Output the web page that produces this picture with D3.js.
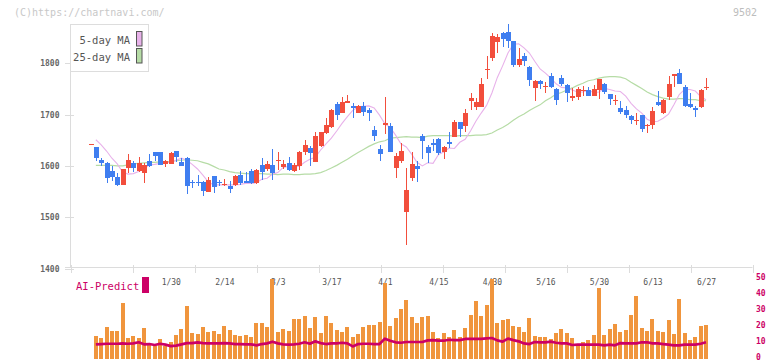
<!DOCTYPE html>
<html><head><meta charset="utf-8">
<script src="https://cdn.jsdelivr.net/npm/d3@7/dist/d3.min.js"></script>
<style>html,body{margin:0;padding:0;background:#fff;}svg{display:block;}</style>
</head><body>
<svg id="chart" width="772" height="361"></svg>
<script>
const dates = ["1/8","1/9","1/10","1/14","1/15","1/16","1/17","1/20","1/21","1/22","1/23","1/24","1/27","1/28","1/29","1/30","1/31",
"2/3","2/4","2/5","2/6","2/7","2/10","2/12","2/13","2/14","2/17","2/18","2/19","2/20","2/21","2/25","2/26","2/27","2/28",
"3/3","3/4","3/5","3/6","3/7","3/10","3/11","3/12","3/13","3/14","3/17","3/18","3/19","3/21","3/24","3/25","3/26","3/27","3/28","3/31",
"4/1","4/2","4/3","4/4","4/7","4/8","4/9","4/10","4/11","4/14","4/15","4/16","4/17","4/18","4/21","4/22","4/23","4/24","4/25","4/28","4/30",
"5/1","5/2","5/7","5/8","5/9","5/12","5/13","5/14","5/15","5/16","5/19","5/20","5/21","5/22","5/23","5/26","5/27","5/28","5/29","5/30",
"6/2","6/3","6/4","6/5","6/6","6/9","6/10","6/11","6/12","6/13","6/16","6/17","6/18","6/19","6/20","6/23","6/24","6/25","6/26","6/27"];

const open  = [1642,1637,1612,1606,1590,1579,1563,1596,1606,1590,1587,1610,1627,1627,1603,1604,1629,1608,1616,1569,1569,1569,1550,1580,1569,1563,1561,1562,1582,1571,1590,1567,1602,1594,1602,1611,1598,1606,1590,1600,1628,1635,1608,1639,1665,1675,1721,1704,1723,1717,1704,1717,1709,1670,1633,1680,1678,1595,1610,1511,1577,1599,1658,1637,1645,1653,1628,1647,1657,1686,1677,1726,1715,1715,1786,1811,1841,1859,1861,1843,1797,1814,1793,1751,1766,1755,1775,1750,1771,1758,1733,1735,1746,1748,1737,1747,1760,1741,1728,1713,1708,1698,1688,1699,1677,1679,1725,1704,1735,1776,1781,1753,1721,1713,1714,1751];
const high  = [1643,1637,1616,1608,1599,1586,1594,1623,1610,1617,1606,1623,1627,1628,1612,1627,1630,1616,1617,1573,1582,1570,1579,1581,1573,1575,1571,1582,1590,1588,1594,1593,1616,1610,1633,1627,1612,1617,1606,1629,1651,1639,1666,1667,1693,1711,1725,1734,1738,1723,1719,1725,1712,1678,1641,1734,1684,1625,1645,1595,1627,1610,1663,1641,1653,1654,1638,1667,1690,1686,1711,1742,1732,1771,1814,1859,1857,1861,1877,1843,1830,1820,1794,1767,1768,1764,1781,1751,1777,1760,1751,1753,1755,1753,1758,1769,1762,1741,1738,1727,1717,1699,1703,1699,1681,1715,1746,1731,1775,1779,1789,1758,1743,1716,1750,1771];
const low   = [1641,1610,1599,1566,1570,1560,1562,1587,1589,1589,1566,1598,1610,1601,1598,1603,1608,1599,1546,1556,1561,1542,1549,1548,1560,1560,1548,1561,1562,1566,1565,1565,1573,1590,1573,1592,1594,1590,1589,1592,1621,1600,1607,1637,1663,1674,1690,1703,1722,1694,1703,1698,1688,1649,1610,1663,1627,1577,1606,1445,1571,1569,1614,1606,1629,1622,1614,1634,1656,1657,1667,1709,1709,1714,1769,1805,1820,1832,1830,1793,1793,1795,1756,1727,1749,1743,1752,1719,1756,1725,1727,1729,1737,1737,1736,1731,1741,1719,1719,1702,1694,1682,1679,1667,1665,1672,1717,1702,1729,1753,1760,1714,1713,1696,1713,1747];
const close = [1642,1616,1605,1577,1579,1563,1594,1612,1596,1606,1602,1600,1620,1602,1610,1625,1618,1600,1560,1566,1566,1552,1573,1558,1566,1564,1554,1580,1566,1567,1566,1592,1589,1604,1586,1612,1604,1592,1602,1627,1641,1625,1658,1666,1680,1709,1700,1725,1727,1712,1717,1706,1704,1658,1624,1684,1628,1619,1629,1553,1604,1593,1649,1626,1640,1626,1636,1643,1686,1671,1703,1732,1725,1760,1788,1853,1851,1848,1843,1797,1809,1805,1767,1766,1760,1756,1753,1729,1760,1743,1736,1750,1747,1737,1750,1769,1744,1731,1729,1706,1699,1690,1690,1671,1679,1707,1718,1729,1760,1779,1760,1716,1714,1708,1748,1753];

const volume = [null,13.6,12.4,19.3,16.8,16.8,34.4,12.4,13.6,12.4,18.7,8.0,7.3,11.8,7.3,9.9,14.3,18.1,32.5,15.5,14.9,19.3,16.2,16.8,14.9,19.9,17.4,14.3,13.6,14.3,13.0,21.8,21.8,19.3,49.5,16.2,18.1,16.8,24.3,24.3,26.2,18.7,25.6,15.5,26.2,21.8,17.4,16.2,19.3,13.0,14.9,19.3,20.6,20.6,22.5,47.0,19.9,25.0,30.6,36.3,25.6,21.8,25.6,26.2,16.2,12.4,15.5,13.0,17.4,13.0,18.7,26.9,35.7,26.2,33.1,49.5,21.8,23.7,24.3,19.9,19.3,16.2,25.0,13.6,13.0,13.0,11.8,15.5,18.1,15.5,12.4,8.0,9.9,11.1,14.3,43.9,14.3,18.1,21.2,16.2,17.4,26.9,38.8,18.7,16.8,24.3,16.8,16.2,23.7,14.9,36.9,15.5,11.1,13.0,19.9,20.6];

const aiPredict = [null,8.4,8.6,8.8,8.8,8.8,9.0,8.8,9.0,9.7,8.4,8.6,8.0,8.8,8.2,7.3,7.6,8.4,9.2,9.2,9.7,9.2,9.0,9.0,9.0,9.2,9.0,8.6,8.6,8.4,8.4,7.8,8.6,9.0,10.1,9.0,8.4,8.2,8.4,8.8,9.7,8.8,10.3,9.2,8.6,9.0,9.0,9.4,9.0,7.1,8.6,8.8,8.8,8.6,8.6,12.0,10.7,9.7,9.4,9.9,9.9,9.9,9.9,10.9,11.1,10.7,10.7,11.3,11.1,11.1,11.8,11.8,11.8,11.8,12.2,12.4,10.9,10.1,12.0,11.1,10.3,9.0,8.6,9.9,9.7,9.7,10.1,9.4,9.0,9.0,8.0,8.2,8.2,8.2,8.2,8.2,7.8,8.2,7.8,9.2,9.0,9.0,9.0,9.7,9.7,9.0,9.0,8.6,8.2,7.8,7.8,8.2,8.2,8.2,8.8,9.7];

const ma5 = [null,1651,1641,1629,1615,1604,1588,1584,1585,1589,1594,1602,1603,1605,1606,1607,1611,1615,1611,1603,1594,1582,1569,1563,1563,1563,1563,1563,1564,1566,1566,1567,1574,1576,1584,1587,1597,1599,1600,1599,1607,1613,1617,1631,1643,1654,1668,1683,1696,1708,1715,1716,1717,1713,1699,1682,1675,1660,1643,1637,1623,1607,1600,1606,1605,1622,1627,1635,1634,1646,1652,1668,1687,1703,1718,1742,1772,1795,1820,1837,1838,1830,1820,1804,1789,1781,1771,1760,1753,1752,1748,1744,1744,1747,1743,1744,1751,1749,1746,1745,1736,1722,1711,1703,1691,1686,1687,1693,1701,1719,1739,1749,1749,1746,1735,1729];

const ma25 = [null,1601,1601,1601,1601,1600,1600,1602,1604,1605,1606,1607,1607,1608,1608,1609,1610,1611,1612,1611,1610,1607,1604,1599,1594,1592,1589,1587,1586,1585,1585,1585,1585,1584,1584,1583,1584,1584,1583,1583,1584,1584,1585,1587,1591,1596,1601,1607,1613,1620,1626,1632,1638,1643,1647,1649,1654,1655,1656,1657,1656,1656,1655,1658,1659,1659,1659,1659,1658,1659,1659,1659,1660,1660,1661,1664,1670,1675,1681,1689,1696,1701,1708,1714,1719,1727,1733,1740,1743,1748,1752,1757,1761,1766,1768,1771,1773,1774,1774,1773,1770,1763,1757,1751,1744,1739,1735,1732,1730,1730,1731,1731,1729,1729,1727,1727];

const priceTicks = [1400,1500,1600,1700,1800];
const volumeTicks = [0,10,20,30,40,50];
const dateLabels = ["1/30","2/14","3/3","3/17","4/1","4/15","4/30","5/16","5/30","6/13","6/27"];
const legendItems = [{name:"5-day MA", color:"#e8b2ea"}, {name:"25-day MA", color:"#b6dca6"}];

const UP = "#f24e3c", DOWN = "#3f7ef0", VOL = "#f0953d", AI = "#cc0066", AXIS = "#dcdcdc";
const MONO = "'DejaVu Sans Mono', monospace";

const svg = d3.select("#chart");
const n = dates.length;
const x = d3.scaleLinear().domain([0, n - 1]).range([90.5, 706]);
const y = d3.scaleLinear().domain([1400, 1800]).range([268.5, 63.3]);
const yv = d3.scaleLinear().domain([0, 50]).range([357.7, 278.3]);
const xGrid = d3.scaleLinear().domain([0, 11]).range([70.5, 752.5]);

// watermark texts
svg.append("text").attr("x", 14).attr("y", 16).attr("font-family", MONO).attr("font-size", 10)
  .attr("fill", "#c8c8c8").text("(C)https://chartnavi.com/");
svg.append("text").attr("x", 757).attr("y", 16).attr("text-anchor", "end").attr("font-family", MONO)
  .attr("font-size", 10).attr("fill", "#bdbdbd").text("9502");

// price axis
const gy = svg.append("g").attr("transform", "translate(70.5,0)")
  .call(d3.axisLeft(y).tickValues(priceTicks).tickSize(0).tickPadding(11).tickFormat(d3.format("d")));
gy.select(".domain").remove();
gy.selectAll("text").attr("font-family", MONO).attr("font-size", 8).attr("font-weight", "bold").attr("fill", "#666");
svg.append("g").selectAll("line").data(priceTicks).join("line")
  .attr("x1", 65).attr("x2", 74).attr("y1", d => Math.round(y(d)) + 0.5).attr("y2", d => Math.round(y(d)) + 0.5)
  .attr("stroke", AXIS);
svg.append("line").attr("x1", 70.5).attr("x2", 70.5).attr("y1", 24).attr("y2", 268).attr("stroke", AXIS);

// bottom axis line + grid ticks
svg.append("line").attr("x1", 65).attr("x2", 752.5).attr("y1", 267.5).attr("y2", 267.5).attr("stroke", AXIS);
const gx = svg.append("g").attr("transform", "translate(0,265)")
  .call(d3.axisBottom(xGrid).tickValues(d3.range(0, 12)).tickSize(8).tickFormat(""));
gx.select(".domain").remove();
gx.selectAll("line").attr("stroke", AXIS).attr("shape-rendering", "crispEdges");

// date labels
const labelIdx = dateLabels.map(d => dates.indexOf(d));
const gd = svg.append("g").attr("transform", "translate(0,279)")
  .call(d3.axisBottom(x).tickValues(labelIdx).tickSize(0).tickPadding(0).tickFormat(i => dates[i]));
gd.select(".domain").remove();
gd.selectAll("text").attr("font-family", MONO).attr("font-size", 8).attr("fill", "#555").attr("dy", "0.8em");

// AI-Predict label
svg.append("text").attr("x", 76).attr("y", 289.5).attr("font-family", MONO).attr("font-size", 10.5)
  .attr("fill", AI).text("AI-Predict");
svg.append("rect").attr("x", 142).attr("y", 277).attr("width", 7).attr("height", 16).attr("fill", AI);

// volume axis labels
const gv = svg.append("g").attr("transform", "translate(756,0)")
  .call(d3.axisRight(yv).tickValues(volumeTicks).tickSize(0).tickPadding(0));
gv.select(".domain").remove();
gv.selectAll("text").attr("font-family", MONO).attr("font-size", 8).attr("font-weight", "bold")
  .attr("fill", AI).attr("dy", "0.2em");

// volume bars
svg.append("g").selectAll("rect").data(d3.range(n).filter(i => volume[i] != null)).join("rect")
  .attr("x", i => Math.round(x(i)) - 2).attr("width", 4)
  .attr("y", i => yv(volume[i])).attr("height", i => yv(0) - yv(volume[i]) + 0.8)
  .attr("fill", VOL).attr("shape-rendering", "crispEdges");

// AI predict line
svg.append("path").datum(d3.range(n).filter(i => aiPredict[i] != null))
  .attr("d", d3.line().x(i => x(i)).y(i => yv(aiPredict[i])))
  .attr("fill", "none").attr("stroke", AI).attr("stroke-width", 2.7).attr("stroke-linejoin", "round");

// moving averages
svg.append("path").datum(d3.range(n).filter(i => ma25[i] != null))
  .attr("d", d3.line().x(i => x(i)).y(i => y(ma25[i])))
  .attr("fill", "none").attr("stroke", legendItems[1].color).attr("stroke-width", 1.2);
svg.append("path").datum(d3.range(n).filter(i => ma5[i] != null))
  .attr("d", d3.line().x(i => x(i)).y(i => y(ma5[i])))
  .attr("fill", "none").attr("stroke", legendItems[0].color).attr("stroke-width", 1.1);

// candles
const cg = svg.append("g").attr("shape-rendering", "crispEdges");
const idx = d3.range(n);
const col = i => close[i] >= open[i] ? UP : DOWN;
cg.selectAll("line").data(idx).join("line")
  .attr("x1", i => Math.round(x(i)) + 0.5).attr("x2", i => Math.round(x(i)) + 0.5)
  .attr("y1", i => y(high[i])).attr("y2", i => y(low[i]))
  .attr("stroke", col).attr("stroke-width", 1);
cg.selectAll("rect").data(idx).join("rect")
  .attr("x", i => Math.round(x(i)) - 2).attr("width", 5)
  .attr("y", i => y(Math.max(open[i], close[i])))
  .attr("height", i => Math.max(1, Math.abs(y(open[i]) - y(close[i]))))
  .attr("fill", col);

// legend
const lg = svg.append("g");
lg.append("rect").attr("x", 70.5).attr("y", 24.5).attr("width", 78).attr("height", 47)
  .attr("fill", "#fff").attr("stroke", "#dddddd");
lg.selectAll("text").data(legendItems).join("text")
  .attr("x", 130).attr("y", (d, k) => 44 + k * 16.5).attr("text-anchor", "end")
  .attr("font-family", MONO).attr("font-size", 10.5).attr("fill", "#555").text(d => d.name);
lg.selectAll("rect.sw").data(legendItems).join("rect").attr("class", "sw")
  .attr("x", 136.5).attr("y", (d, k) => 31.5 + k * 17).attr("width", 5.5).attr("height", 14.5)
  .attr("fill", d => d.color).attr("stroke", "#555");
</script>
</body></html>
